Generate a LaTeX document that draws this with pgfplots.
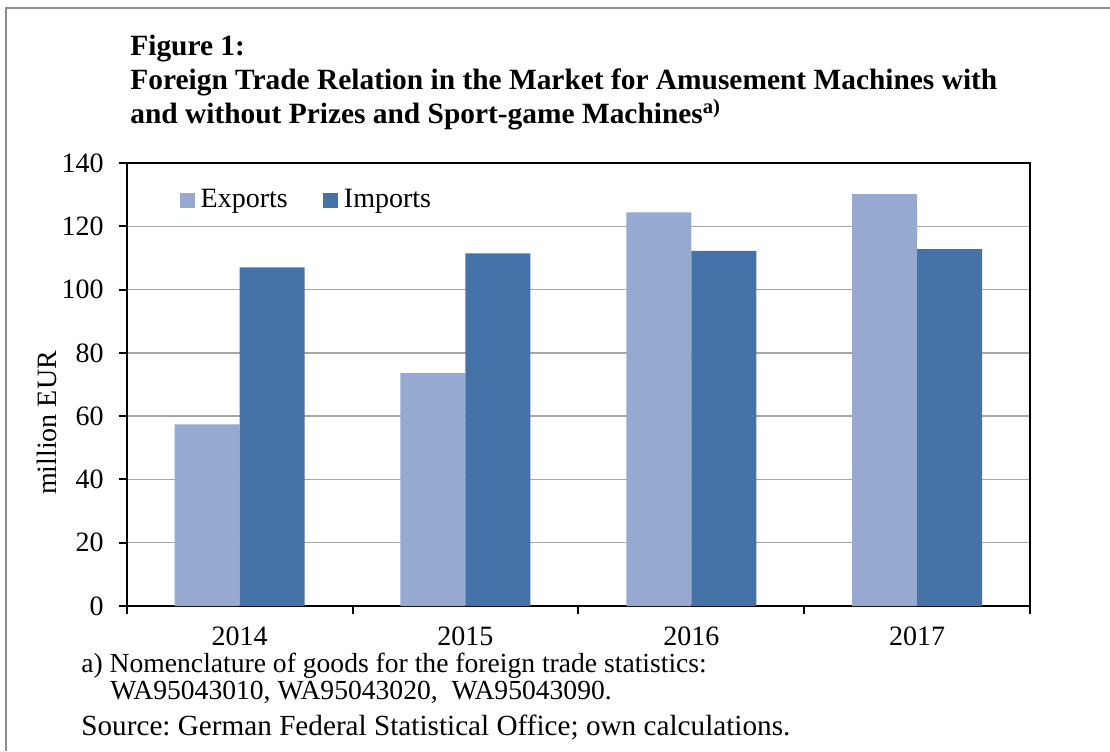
\documentclass[border=0pt]{standalone}
\usepackage{fontspec}
\setmainfont{Liberation Serif}
\usepackage{pgfplots}
\pgfplotsset{compat=1.18}
\definecolor{exportc}{HTML}{95A9D1}
\definecolor{importc}{HTML}{4573A8}
\definecolor{gridc}{HTML}{A6A6A6}
\definecolor{framec}{HTML}{8C8C8C}
\frenchspacing
\begin{document}
\begin{tikzpicture}[x=0.5pt,y=0.5pt]
\useasboundingbox (0,0) rectangle (1110,751);
\draw[framec, line width=1pt] (6,0) -- (6,743) -- (1110,743);
% title
\begin{scope}[every node/.style={anchor=base west, inner sep=0pt, font=\fontsize{14.7}{17}\selectfont\bfseries}]
\node at (130,695) {Figure 1:};
\node at (130,661) {Foreign Trade Relation in the Market for Amusement Machines with};
\node at (130,627) {and without Prizes and Sport-game Machines\textsuperscript{a)}};
\end{scope}
% notes
\begin{scope}[every node/.style={anchor=base west, inner sep=0pt, font=\fontsize{13.8}{16}\selectfont}]
\node at (81,79) {a) Nomenclature of goods for the foreign trade statistics:};
\node at (110,52) {WA95043010, WA95043020,\ \ WA95043090.};
\node[font=\fontsize{14.6}{17}\selectfont] at (81,16) {Source: German Federal Statistical Office; own calculations.};
\end{scope}
\coordinate (origin) at (126.7,145);
\begin{axis}[
  at={(origin)}, anchor=south west, scale only axis,
  width=451.65pt, height=221.5pt,
  font=\fontsize{14}{17}\selectfont,
  /pgf/number format/assume math mode=true,
  ymin=0, ymax=140, ytick={0,20,...,140},
  xmin=-0.5, xmax=3.5,
  xtick={-0.5,0.5,1.5,2.5,3.5}, xticklabels={},
  extra x ticks={0,1,2,3},
  extra x tick labels={2014,2015,2016,2017},
  extra x tick style={major tick length=0pt, grid=none,
    xticklabel style={yshift=-7pt}},
  ybar=0pt, bar width=32.5pt,
  ymajorgrids, grid style={gridc, line width=0.75pt},
  axis line style={line width=1pt},
  every tick/.style={black, line width=1pt},
  tick align=outside, xtick pos=left, ytick pos=left,
  major tick length=4pt,
  yticklabel style={xshift=-4pt},
  ylabel={million EUR},
  ylabel style={at={(rel axis cs:-0.088,0.413)}, anchor=center, rotate=0},
  legend columns=2,
  legend style={at={(0.052,0.916)}, anchor=west, draw=none, fill=none,
    nodes={inner sep=2.8pt},
    /tikz/every even column/.append style={column sep=15pt}},
  legend image code/.code={\fill[#1] (0pt,-3.75pt) rectangle (7.5pt,3.75pt);},
]
\addplot[fill=exportc, draw=none] coordinates {(0,57.4) (1,73.6) (2,124.4) (3,130.2)};
\addplot[fill=importc, draw=none] coordinates {(0,107.0) (1,111.4) (2,112.2) (3,112.8)};
\legend{Exports, Imports}
\end{axis}
\end{tikzpicture}
\end{document}
